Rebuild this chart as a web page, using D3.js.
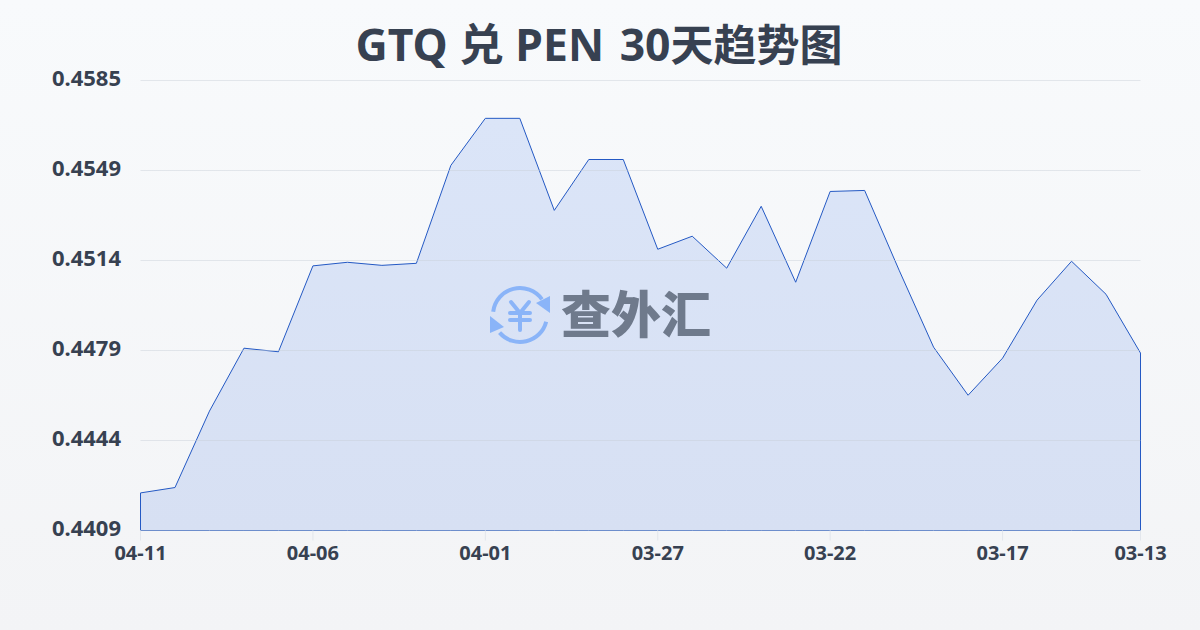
<!DOCTYPE html>
<html lang="zh">
<head>
<meta charset="utf-8">
<script src="https://cdn.jsdelivr.net/npm/d3@7"></script>
<style>
  html, body { margin: 0; padding: 0; }
  body { width: 1200px; height: 630px; overflow: hidden; }
  svg { display: block; }
  svg text { font-family: "Noto Sans", "Noto Sans CJK SC", sans-serif; }
  .y-axis text { font-size: 22px; font-weight: 700; fill: #374151; }
  .x-axis text { font-size: 20px; font-weight: 700; fill: #374151; }
</style>
</head>
<body>
<div id="view"></div>
<script>
const dates = ["04-11","04-10","04-09","04-08","04-07","04-06","04-05","04-04","04-03","04-02",
  "04-01","03-31","03-30","03-29","03-28","03-27","03-26","03-25","03-24","03-23",
  "03-22","03-21","03-20","03-19","03-18","03-17","03-16","03-15","03-14","03-13"];
const rates = [0.44237,0.44258,0.44557,0.44803,0.44789,0.45125,0.45139,0.45127,0.45135,0.45518,
  0.45702,0.45702,0.45342,0.45541,0.45541,0.45190,0.45241,0.45116,0.45358,0.45061,
  0.45416,0.45420,0.45108,0.44807,0.44619,0.44764,0.44991,0.45143,0.45014,0.44784];
const xTicks = ["04-11","04-06","04-01","03-27","03-22","03-17","03-13"];
const yTicks = [0.4409,0.44442,0.44794,0.45146,0.45498,0.4585];
const yTickLabels = ["0.4409","0.4444","0.4479","0.4514","0.4549","0.4585"];

const W = 1200, H = 630;
const svg = d3.select("#view").append("svg").attr("width", W).attr("height", H);
const defs = svg.append("defs");

const bgGrad = defs.append("linearGradient").attr("id", "bg").attr("x1", 0).attr("y1", 0).attr("x2", 0).attr("y2", 1);
bgGrad.append("stop").attr("offset", "0%").attr("stop-color", "#f8fafc");
bgGrad.append("stop").attr("offset", "100%").attr("stop-color", "#f3f4f6");

const areaGrad = defs.append("linearGradient").attr("id", "fillArea").attr("x1", 0).attr("y1", 0).attr("x2", 0).attr("y2", 1);
areaGrad.append("stop").attr("offset", "0%").attr("stop-color", "#dbe5f8");
areaGrad.append("stop").attr("offset", "100%").attr("stop-color", "#d7e0f3");

svg.append("rect").attr("width", W).attr("height", H).attr("fill", "url(#bg)");

const x = d3.scalePoint().domain(dates).range([140.5, 1140.5]);
const y = d3.scaleLinear().domain([0.4409, 0.4585]).range([530.5, 80.5]);

// title
const title = svg.append("text")
  .attr("x", 355.5).attr("y", 61)
  .attr("fill", "#374151")
  .style("font-size", "44.5px").style("font-weight", 700);
title.append("tspan").text("GTQ 兑 PEN ");
title.append("tspan").attr("dx", 4).text("30");
title.append("tspan").style("font-size", "43px").text("天趋势图");

// area
const area = d3.area().x((d, i) => x(dates[i])).y0(y(0.4409)).y1(d => y(d));
svg.append("path").datum(rates)
  .attr("d", area)
  .attr("fill", "url(#fillArea)")
  .attr("stroke", "#2459c4")
  .attr("stroke-width", 1);

// gridline
const grid = svg.append("g")
  .attr("transform", "translate(140.5,0)")
  .call(d3.axisLeft(y).offset(0).tickValues(yTicks).tickSize(-1000).tickFormat(""));
grid.select(".domain").remove();
grid.selectAll("line").attr("stroke", "#c8ced8").attr("stroke-opacity", 0.45);

// truc Y
const yAxis = svg.append("g")
  .attr("class", "y-axis")
  .attr("transform", "translate(124,-2)")
  .call(d3.axisLeft(y).tickValues(yTicks).tickSize(0).tickFormat((d, i) => yTickLabels[i]));
yAxis.select(".domain").remove();

// truc X
const xAxis = svg.append("g")
  .attr("class", "x-axis")
  .attr("transform", "translate(0,530.5)")
  .call(d3.axisBottom(x).offset(0).tickValues(xTicks).tickSize(10).tickPadding(5));
xAxis.select(".domain").remove();
xAxis.selectAll("line").attr("stroke", "#e2e6ec");

// logo
const logoBlue = "#8ab4f8";
const logo = svg.append("g").attr("transform", "translate(520,315)");
const ring = logo.append("g").attr("fill", "none").attr("stroke", logoBlue).attr("stroke-width", 4).attr("stroke-linecap", "round");
ring.append("path").attr("d", d3.arc()({ innerRadius: 27, outerRadius: 27, startAngle: -1.45, endAngle: 0.95 }));
ring.append("path").attr("d", d3.arc()({ innerRadius: 27, outerRadius: 27, startAngle: 1.82, endAngle: 4.0 }));
logo.append("path").attr("d", "M30,-19 L30,-2 L16,-12 Z").attr("fill", logoBlue);
logo.append("path").attr("d", "M-30,1 L-30,18 L-16,12 Z").attr("fill", logoBlue);
logo.append("path")
  .attr("d", "M-9,-13 L0,-2 L9,-13 M-10,-2 H10 M-10,5 H10 M0,-2 V15")
  .attr("fill", "none").attr("stroke", logoBlue).attr("stroke-width", 4).attr("stroke-linecap", "round");
svg.append("text")
  .attr("x", 636).attr("y", 333)
  .attr("text-anchor", "middle")
  .attr("fill", "#6f7a8c")
  .style("font-size", "50px").style("font-weight", 900)
  .text("查外汇");
</script>
</body>
</html>
